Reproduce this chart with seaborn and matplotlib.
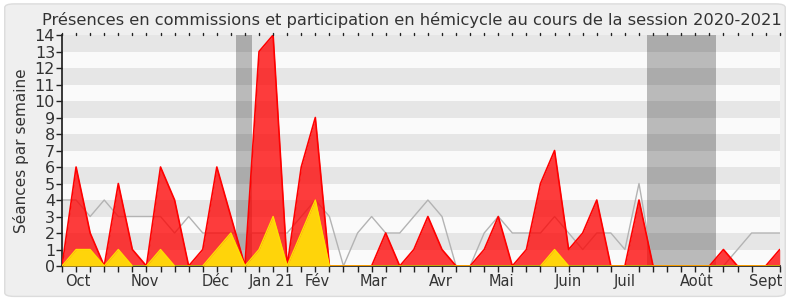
import numpy as np
import pandas as pd
import matplotlib
matplotlib.use("Agg")
import matplotlib.pyplot as plt
import seaborn as sns
from matplotlib.patches import FancyBboxPatch

# ---- data (weekly, session 2020-2021) ----
weeks = list(range(52))
commissions = [0, 6, 2, 0, 5, 1, 0, 6, 4, 0, 1, 6, 3, 0, 13, 14, 0, 6, 9, 0,
               0, 0, 0, 2, 0, 1, 3, 1, 0, 0, 1, 3, 0, 1, 5, 7, 1, 2, 4, 0,
               0, 4, 0, 0, 0, 0, 0, 1, 0, 0, 0, 1]
hemicycle = [0, 1, 1, 0, 1, 0, 0, 1, 0, 0, 0, 1, 2, 0, 1, 3, 0, 2, 4, 0,
             0, 0, 0, 0, 0, 0, 0, 0, 0, 0, 0, 0, 0, 0, 0, 1, 0, 0, 0, 0,
             0, 0, 0, 0, 0, 0, 0, 0, 0, 0, 0, 0]
median_line = [4, 4, 3, 4, 3, 3, 3, 3, 2, 3, 2, 2, 2, 2, 2, 2, 2, 3, 4, 3,
               0, 2, 3, 2, 2, 3, 4, 3, 0, 0, 2, 3, 2, 2, 2, 3, 2, 1, 2, 2,
               1, 5, 0, 0, 0, 0, 0, 0, 1, 2, 2, 2]
month_labels = ["Oct", "Nov", "Déc", "Jan 21", "Fév", "Mar", "Avr", "Mai",
                "Juin", "Juil", "Août", "Sept"]
month_pos = [1.14, 5.9, 10.95, 14.9, 18.1, 22.1, 26.9, 31.2, 35.97, 40.0, 45.07, 50.0]
vacations = [(12.38, 13.52), (41.54, 46.5)]

df = pd.DataFrame({"semaine": weeks, "commissions": commissions,
                   "hemicycle": hemicycle, "median": median_line})

sns.set_theme(style="white")
plt.rcParams['font.family'] = ['DejaVu Sans']

fig = plt.figure(figsize=(7.9, 3.0), dpi=100)
fig.patch.set_facecolor("white")
frame = FancyBboxPatch((0.006, 0.012), 0.988, 0.975, boxstyle="round,pad=0,rounding_size=0.012",
                       transform=fig.transFigure, facecolor="#efefef", edgecolor="#dcdcdc",
                       linewidth=1.0, zorder=-10)
fig.patches.append(frame)

ax = fig.add_axes([0.0785, 0.1133, 0.9085, 0.77])
ax.set_facecolor("white")
ax.set_xlim(0, 51)
ax.set_ylim(0, 14)

# vacation bands (under stripes)
for a, b in vacations:
    ax.axvspan(a, b, color="#bebebe", zorder=0, lw=0)
# stripes
for y in range(14):
    alpha = 0.098 if y % 2 == 1 else 0.02
    ax.axhspan(y, y + 1, color="black", alpha=alpha, zorder=0.5, lw=0)

# grey participation line
sns.lineplot(data=df, x="semaine", y="median", ax=ax, color="#b3b3b3", lw=1.0, zorder=1)
# red area
ax.fill_between(df["semaine"], df["commissions"], color="#ff0000", alpha=0.76, lw=0, zorder=2)
sns.lineplot(data=df, x="semaine", y="commissions", ax=ax, color="#ff0000", lw=1.2, zorder=3)
# yellow area
ax.fill_between(df["semaine"], df["hemicycle"], color="#ffd40a", alpha=1.0, lw=0, zorder=4)
sns.lineplot(data=df, x="semaine", y="hemicycle", ax=ax, color="#ffe000", lw=1.0, zorder=5)

ax.set_xlabel("")
ax.set_ylabel("Séances par semaine", fontsize=11, color="#333333", labelpad=4)
ax.set_yticks(range(15))
ax.set_yticklabels([str(v) for v in range(15)], fontsize=11.5, color="#333333")
ax.set_xticks(month_pos)
ax.set_xticklabels(month_labels, fontsize=10.5, color="#333333")
ax.set_xticks(weeks, minor=True)
ax.tick_params(axis="x", which="major", length=0, pad=6)
ax.tick_params(axis="x", which="minor", length=4, width=1, color="#222222", direction="out",
               bottom=True, top=False)
ax.tick_params(axis="y", which="major", length=4, width=1, color="#222222", left=True, pad=1)

# small dotted ticks at top
for w in weeks:
    ax.plot([w, w], [14, 14.12], color="#222222", lw=1, clip_on=False, zorder=6)

for s in ["top", "right"]:
    ax.spines[s].set_visible(False)
ax.spines["left"].set_color("#222222")
ax.spines["bottom"].set_color("#222222")

fig.text(0.521, 0.935, "Présences en commissions et participation en hémicycle au cours de la session 2020-2021",
         ha="center", va="center", fontsize=11.7, color="#333333")

fig.savefig("out.png", dpi=100, facecolor=fig.get_facecolor())
